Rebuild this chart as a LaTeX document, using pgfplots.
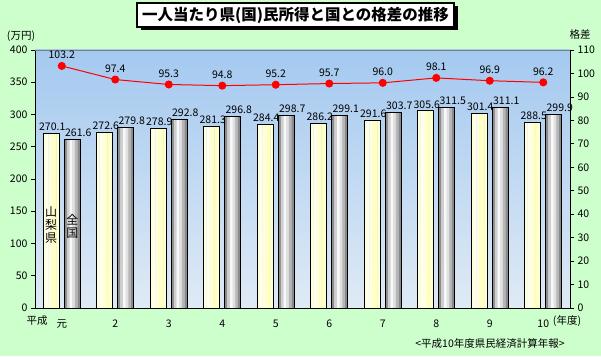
\documentclass[border=0pt]{standalone}
\usepackage{fontspec}
\setmainfont{Noto Sans CJK JP}
\usepackage{pgfplots}
\usepackage{pgfplotstable}
\pgfplotsset{compat=1.18}
\definecolor{bg}{HTML}{CCFFCC}
\definecolor{pltop}{HTML}{A4C9F0}
\definecolor{plbot}{HTML}{DFEAF5}
\definecolor{y1}{HTML}{FFFFDC}
\definecolor{y2}{HTML}{FFFFF0}
\definecolor{y3}{HTML}{FFFFE0}
\definecolor{y4}{HTML}{FFFFCA}
\definecolor{y5}{HTML}{FFFFC2}
\definecolor{y6}{HTML}{FFFFD4}
\definecolor{g1}{HTML}{8C8C8C}
\definecolor{g2}{HTML}{CFCFCF}
\definecolor{g3}{HTML}{F8F8F8}
\definecolor{g4}{HTML}{E0E0E0}
\definecolor{g5}{HTML}{B6B6B6}
\definecolor{g6}{HTML}{8A8A8A}
\pgfplotsset{/pgf/number format/assume math mode=true}
\pgfplotsset{
  strip/.style n args={2}{ybar, bar width=0.052, bar shift=#1, fill=#2, draw=none, forget plot},
  outl/.style={ybar, bar width=0.3, bar shift=0, fill=none, draw=black, line width=0.8bp,
    nodes near coords,
    nodes near coords style={font=\fontsize{10.5bp}{12bp}\selectfont, anchor=south, xshift=#1, yshift=-1bp, text=black,
      /pgf/number format/.cd, fixed, fixed zerofill, precision=1}},
}
\pgfplotstableread{
x ken zen
0 270.1 261.6
1 272.6 279.8
2 278.9 292.8
3 281.3 296.8
4 284.4 298.7
5 286.2 299.1
6 291.6 303.7
7 305.6 311.5
8 301.4 311.1
9 288.5 299.9
}\incomedata
\pgfplotstableread{
x ratio
0 103.2
1 97.4
2 95.3
3 94.8
4 95.2
5 95.7
6 96.0
7 98.1
8 96.9
9 96.2
}\ratiodata
\begin{document}
\begin{tikzpicture}[x=1bp,y=1bp]
\fill[bg] (0,0) rectangle (601,356);
% title box
\fill[black] (141,326) rectangle (458,350);
\fill[white,draw=black,line width=1.2bp] (137,329) rectangle (454,353);
\node[font=\fontsize{15.5bp}{18bp}\selectfont\bfseries] at (295.5,341) {一人当たり県(国)民所得と国との格差の推移};
\node[font=\fontsize{10.5bp}{12bp}\selectfont] at (21,320) {(万円)};
\node[font=\fontsize{10.5bp}{12bp}\selectfont] at (580,321) {格差};
\node[font=\fontsize{10.5bp}{12bp}\selectfont] at (37,35) {平成};
\node[font=\fontsize{10.5bp}{12bp}\selectfont] at (567,35) {(年度)};
\node[font=\fontsize{10.5bp}{12bp}\selectfont] at (490,12.5) {<平成10年度県民経済計算年報>};
\begin{axis}[
  at={(35bp,48bp)}, anchor=south west, scale only axis,
  width=535bp, height=258bp,
  xmin=-0.5, xmax=9.5, ymin=0, ymax=400,
  xtick={0,...,9}, xticklabels={元,2,3,4,5,6,7,8,9,10},
  ytick={0,50,...,400},
  axis y line*=left, axis x line*=bottom,
  x axis line style={-}, y axis line style={-},
  axis line style={black, line width=0.8bp},
  major x tick style={draw=none},
  major y tick style={black, line width=0.8bp},
  tick align=outside, major tick length=4bp,
  ticklabel style={font=\fontsize{10.5bp}{12bp}\selectfont},
  xticklabel style={yshift=-4bp},
  axis background/.style={shade, top color=pltop, bottom color=plbot},
  clip=false,
]
% 山梨県 (yellow) strips
\addplot[strip={-0.125}{y1}] table[x expr=\thisrow{x}-0.196, y=ken] {\incomedata};
\addplot[strip={-0.075}{y2}] table[x expr=\thisrow{x}-0.196, y=ken] {\incomedata};
\addplot[strip={-0.025}{y3}] table[x expr=\thisrow{x}-0.196, y=ken] {\incomedata};
\addplot[strip={0.025}{y4}] table[x expr=\thisrow{x}-0.196, y=ken] {\incomedata};
\addplot[strip={0.075}{y5}] table[x expr=\thisrow{x}-0.196, y=ken] {\incomedata};
\addplot[strip={0.125}{y6}] table[x expr=\thisrow{x}-0.196, y=ken] {\incomedata};
\addplot[outl=1bp] table[x expr=\thisrow{x}-0.196, y=ken] {\incomedata};
% 全国 (grey) strips
\addplot[strip={-0.125}{g1}] table[x expr=\thisrow{x}+0.196, y=zen] {\incomedata};
\addplot[strip={-0.075}{g2}] table[x expr=\thisrow{x}+0.196, y=zen] {\incomedata};
\addplot[strip={-0.025}{g3}] table[x expr=\thisrow{x}+0.196, y=zen] {\incomedata};
\addplot[strip={0.025}{g4}] table[x expr=\thisrow{x}+0.196, y=zen] {\incomedata};
\addplot[strip={0.075}{g5}] table[x expr=\thisrow{x}+0.196, y=zen] {\incomedata};
\addplot[strip={0.125}{g6}] table[x expr=\thisrow{x}+0.196, y=zen] {\incomedata};
\addplot[outl=6bp] table[x expr=\thisrow{x}+0.196, y=zen] {\incomedata};
\draw[gray, line width=0.8bp] (rel axis cs:0,1) -- (rel axis cs:1,1);
\node[font=\fontsize{12bp}{13bp}\selectfont, align=center, inner sep=0] at (axis cs:-0.2,128.7) {山\\梨\\県};
\node[font=\fontsize{12bp}{13bp}\selectfont, align=center, inner sep=0] at (axis cs:0.2,127) {全\\国};
\end{axis}
\begin{axis}[
  at={(35bp,48bp)}, anchor=south west, scale only axis,
  width=535bp, height=258bp,
  xmin=-0.5, xmax=9.5, ymin=0, ymax=110,
  ytick={0,10,...,110},
  axis y line*=right, axis x line=none,
  y axis line style={-},
  axis line style={black, line width=0.8bp},
  major y tick style={black, line width=0.8bp},
  tick align=outside, major tick length=4bp,
  ticklabel style={font=\fontsize{10.5bp}{12bp}\selectfont},
  nodes near coords,
  nodes near coords style={font=\fontsize{10.5bp}{12bp}\selectfont, anchor=south, yshift=3bp, text=black,
    /pgf/number format/.cd, fixed, fixed zerofill, precision=1},
  clip=false,
]
\addplot[red, line width=1bp, mark=*, mark size=3.5bp, mark options={fill=red, draw=red}] table[x=x, y=ratio] {\ratiodata};
\end{axis}
\end{tikzpicture}
\end{document}
